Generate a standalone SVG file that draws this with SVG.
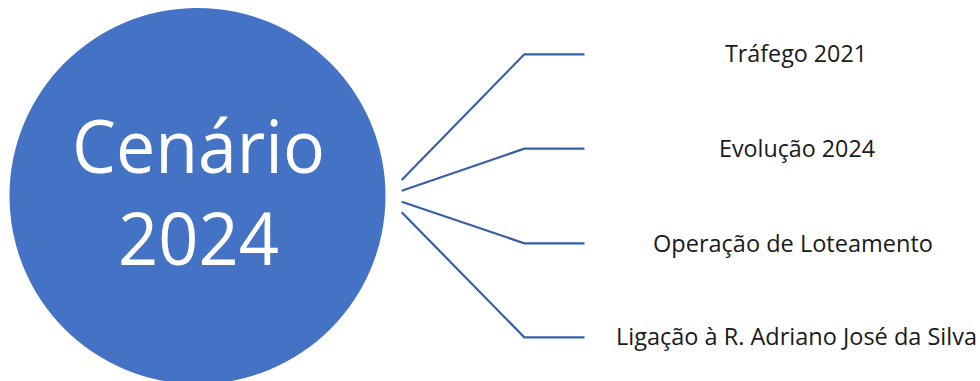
<svg xmlns="http://www.w3.org/2000/svg" width="980" height="381" viewBox="0 0 980 381">
<style>
.lbl{font-family:"Open Sans","Liberation Sans",sans-serif;font-size:23px;fill:#1a1a1a;text-anchor:middle}
.big{font-family:"Open Sans","Liberation Sans",sans-serif;font-size:74px;fill:#ffffff;text-anchor:middle}
.conn{fill:none;stroke:#3560A6;stroke-width:2.2}
</style>
<rect width="980" height="381" fill="#ffffff"/>
<g id="center">
<circle cx="197.5" cy="196" r="188" fill="#4472C4"/>
<text class="big" x="198.5" y="173" textLength="253" lengthAdjust="spacingAndGlyphs">Cenário</text>
<text class="big" x="198.5" y="265" textLength="161" lengthAdjust="spacingAndGlyphs">2024</text>
</g>
<g id="connectors">
<polyline class="conn" points="401.7,180 524.3,54.3 584.5,54.3"/>
<polyline class="conn" points="401.7,190.7 524.3,148.7 584.5,148.7"/>
<polyline class="conn" points="401.7,201.7 524.3,243.3 584.5,243.3"/>
<polyline class="conn" points="401.7,212.3 524.3,337.3 584.5,337.3"/>
</g>
<g id="n1"><text class="lbl" x="796" y="62" textLength="142" lengthAdjust="spacingAndGlyphs">Tráfego 2021</text></g>
<g id="n2"><text class="lbl" x="797" y="157" textLength="156" lengthAdjust="spacingAndGlyphs">Evolução 2024</text></g>
<g id="n3"><text class="lbl" x="793" y="252" textLength="280" lengthAdjust="spacingAndGlyphs">Operação de Loteamento</text></g>
<g id="n4"><text class="lbl" x="796.5" y="345" textLength="361" lengthAdjust="spacingAndGlyphs">Ligação à R. Adriano José da Silva</text></g>
</svg>
